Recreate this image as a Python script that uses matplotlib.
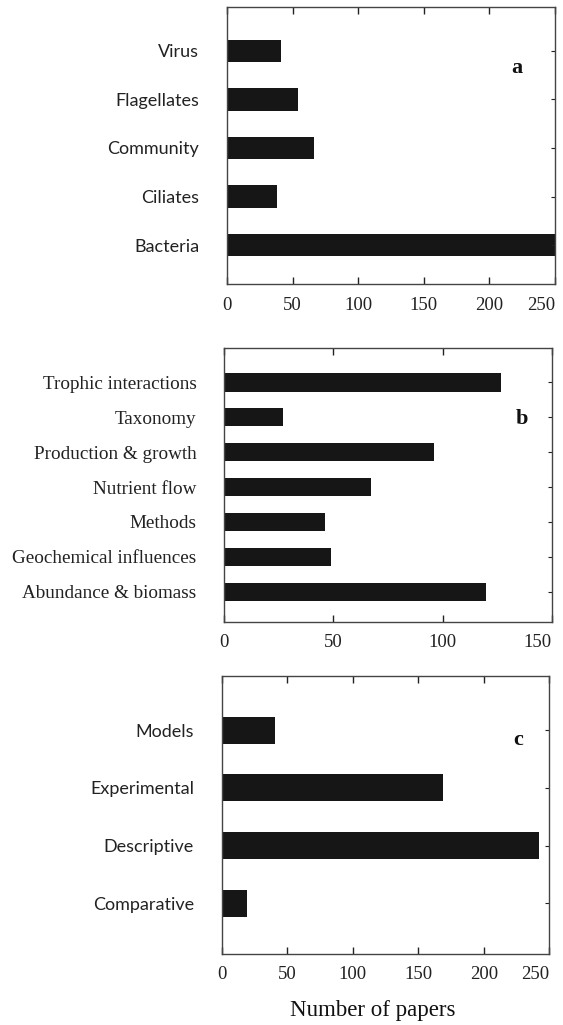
import matplotlib
matplotlib.use('Agg')
import matplotlib.pyplot as plt

# Panel a: organisms studied
org_labels = ["Bacteria", "Ciliates", "Community", "Flagellates", "Virus"]
org_counts = [252, 38, 66, 54, 41]

# Panel b: research topics
topic_labels = ["Abundance & biomass", "Geochemical influences", "Methods",
                "Nutrient flow", "Production & growth", "Taxonomy",
                "Trophic interactions"]
topic_counts = [120, 49, 46, 67, 96, 27, 127]

# Panel c: type of study
study_labels = ["Comparative", "Descriptive", "Experimental", "Models"]
study_counts = [19, 242, 169, 41]

serif = "Liberation Serif"
sans = "Lato"

fig = plt.figure(figsize=(5.63, 10.25), dpi=100)

panels = [
    # rect, labels, counts, xmax, xticks, ylim, bar height, letter pos, label font
    ([0.4032, 0.7229, 0.5826, 0.2703], org_labels, org_counts, 250,
     [0, 50, 100, 150, 200, 250], (-0.8, 4.9), 0.46, (0.885, 0.78), sans, "a"),
    ([0.3984, 0.3935, 0.5815, 0.2667], topic_labels, topic_counts, 150,
     [0, 50, 100, 150], (-0.86, 6.98), 0.52, (0.91, 0.74), serif, "b"),
    ([0.3938, 0.0693, 0.5819, 0.2712], study_labels, study_counts, 250,
     [0, 50, 100, 150, 200, 250], (-0.88, 3.94), 0.47, (0.905, 0.77), sans, "c"),
]

for rect, labels, counts, xmax, xticks, ylim, bh, letter_pos, lfont, letter in panels:
    ax = fig.add_axes(rect)
    pos = list(range(len(labels)))
    ax.barh(pos, counts, height=bh, color="#161616", edgecolor="none")
    ax.set_xlim(0, xmax)
    ax.set_ylim(*ylim)
    ax.set_xticks(xticks)
    ax.set_xticklabels([str(t) for t in xticks], fontfamily=serif, fontsize=13.5)
    # keep the last number inside the figure
    ax.get_xticklabels()[-1].set_horizontalalignment("right")
    ax.set_yticks(pos)
    ax.set_yticklabels(labels, fontfamily=lfont,
                       fontsize=13.8 if lfont == serif else 13)
    ax.tick_params(axis="x", direction="in", top=True, bottom=True, length=5,
                   width=1, pad=9, colors="#222222")
    ax.tick_params(axis="y", direction="in", left=False, right=True, length=3,
                   width=0.8, pad=20, colors="#222222")
    for side in ax.spines.values():
        side.set_linewidth(1.0)
        side.set_color("#444444")
    ax.text(letter_pos[0], letter_pos[1], letter, transform=ax.transAxes,
            fontfamily=serif, fontweight="bold", fontsize=16, ha="center",
            va="center", color="#111111")
    if letter == "c":
        ax.set_xlabel("Number of papers", fontfamily=serif, fontsize=16.5,
                      color="#111111")
        ax.xaxis.set_label_coords(0.46, -0.165)

fig.savefig("out.png", dpi=100)
